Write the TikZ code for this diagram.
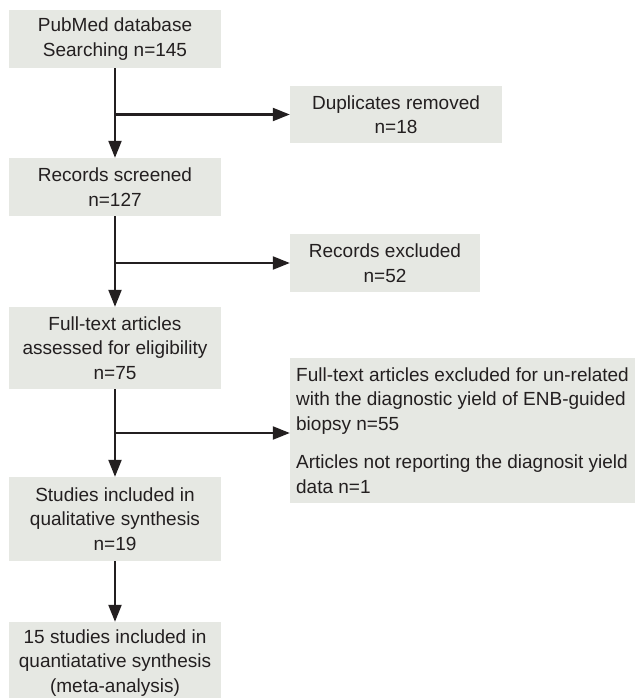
\documentclass[tikz,border=0pt]{standalone}
\usepackage{fontspec}
\setmainfont{Liberation Sans}
\usetikzlibrary{arrows.meta}
\definecolor{boxfill}{HTML}{E6E8E3}
\definecolor{ink}{HTML}{231F20}
\begin{document}
\begin{tikzpicture}[x=1pt,y=-1pt,
  flowbox/.style={rectangle,fill=boxfill,draw=none,text=ink,align=center,
    minimum width=212pt,inner sep=0pt,font=\fontsize{19}{24.5}\selectfont},
  arr/.style={draw=ink,line width=2.2pt,-{Triangle[length=17pt,width=13pt]}},
  ]
\useasboundingbox (0,0) rectangle (635,698);
\node[flowbox,minimum height=58pt] (search) at (115,39) {PubMed database\\Searching n=145};
\node[flowbox,minimum height=57pt] (dup) at (396,114.5) {Duplicates removed\\n=18};
\node[flowbox,minimum height=58pt] (screen) at (115,187) {Records screened\\n=127};
\node[flowbox,minimum height=58pt,minimum width=190pt] (excl) at (385,263) {Records excluded\\n=52};
\node[flowbox,minimum height=82pt] (full) at (115,348) {Full-text articles\\assessed for eligibility\\n=75};
\node[flowbox,minimum height=145pt,minimum width=345pt,align=left] (ftex) at (462.5,430.5)
  {Full-text articles excluded for un-related\\with the diagnostic yield of ENB-guided\\biopsy n=55\\[14pt]Articles not reporting the diagnosit yield\\data n=1};
\node[flowbox,minimum height=84pt] (qual) at (115,519) {Studies included in\\qualitative synthesis\\n=19};
\node[flowbox,minimum height=82pt] (quant) at (115,663) {15 studies included in\\quantiatative synthesis\\(meta-analysis)};
\coordinate (b1) at (115,114.5);
\coordinate (b2) at (115,263);
\coordinate (b3) at (115,433);
\draw[arr] (search.south) -- (screen.north);
\draw[arr] (b1) -- (dup.west);
\draw[arr] (screen.south) -- (full.north);
\draw[arr] (b2) -- (excl.west);
\draw[arr] (full.south) -- (qual.north);
\draw[arr] (b3) -- (ftex.west |- b3);
\draw[arr] (qual.south) -- (quant.north);
\end{tikzpicture}
\end{document}
